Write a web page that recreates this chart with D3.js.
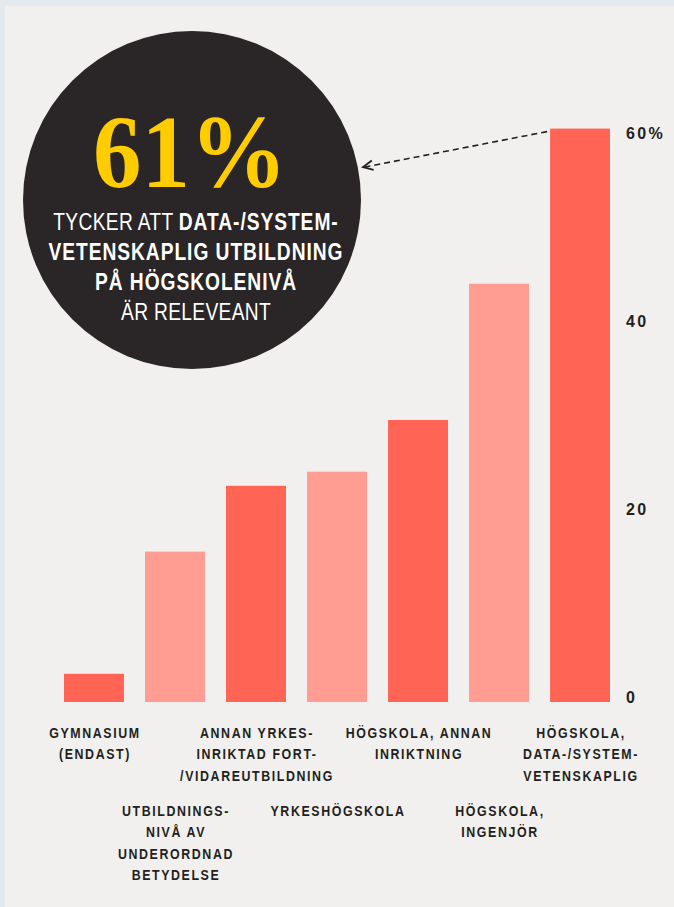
<!DOCTYPE html>
<html>
<head>
<meta charset="utf-8">
<script src="https://cdn.jsdelivr.net/npm/d3@7"></script>
<style>
  html, body { margin: 0; padding: 0; background: #e3e9ec; }
  #chart svg { display: block; }
</style>
</head>
<body>
<div id="chart"></div>
<script>
// data
const categories = [
  ["GYMNASIUM", "(ENDAST)"],
  ["UTBILDNINGS-", "NIVÅ AV", "UNDERORDNAD", "BETYDELSE"],
  ["ANNAN YRKES-", "INRIKTAD FORT-", "/VIDAREUTBILDNING"],
  ["YRKESHÖGSKOLA"],
  ["HÖGSKOLA, ANNAN", "INRIKTNING"],
  ["HÖGSKOLA,", "INGENJÖR"],
  ["HÖGSKOLA,", "DATA-/SYSTEM-", "VETENSKAPLIG"]
];
const values = [3, 16, 23, 24.5, 30, 44.5, 61];
const yTicks = [0, 20, 40, 60];
const highlight = "61%";
const calloutLines = [
  [["TYCKER ATT ", false], ["DATA-/SYSTEM-", true]],
  [["VETENSKAPLIG UTBILDNING", true]],
  [["PÅ HÖGSKOLENIVÅ", true]],
  [["ÄR RELEVEANT", false]]
];

const width = 674, height = 907;
const dark = "#ff6455", light = "#ff9d92";
const squeeze = 0.8; // condensed look, no narrow font installed

const svg = d3.select("#chart")
  .append("svg")
  .attr("width", width)
  .attr("height", height);

// panel
svg.append("rect")
  .attr("x", 5).attr("y", 6)
  .attr("width", width - 5).attr("height", height - 6)
  .attr("fill", "#f1f0ee");

// scales
const x = d3.scaleBand()
  .domain(d3.range(values.length))
  .range([64, 610])
  .paddingInner(0.26)
  .paddingOuter(0);

const y = d3.scaleLinear().domain([0, 60]).range([702, 138]);

// bars
svg.append("g")
  .selectAll("rect")
  .data(values)
  .join("rect")
  .attr("x", (d, i) => x(i))
  .attr("y", d => y(d))
  .attr("width", x.bandwidth())
  .attr("height", d => y(0) - y(d))
  .attr("fill", (d, i) => i % 2 === 0 ? dark : light);

// y axis on the right
const yAxis = svg.append("g")
  .attr("transform", "translate(624,0)")
  .call(d3.axisRight(y).tickValues(yTicks).tickSize(0)
    .tickFormat(d => d === 60 ? d + "%" : d));
yAxis.select(".domain").remove();
yAxis.selectAll("text")
  .attr("x", 2)
  .attr("dy", 0)
  .attr("fill", "#231f20")
  .style("font-family", "'Liberation Sans', Arial, sans-serif")
  .style("font-weight", "bold")
  .style("font-size", "16px")
  .style("letter-spacing", "2.4px");

// category labels, staggered in two rows
const labels = svg.append("g")
  .selectAll("g")
  .data(categories)
  .join("g")
  .attr("transform", (d, i) =>
    `translate(${x(i) + x.bandwidth() / 2 + 1},${i % 2 === 0 ? 738 : 816}) scale(${squeeze},1)`)
  .append("text")
  .attr("text-anchor", "middle")
  .attr("fill", "#231f20")
  .style("font-family", "'Liberation Sans', Arial, sans-serif")
  .style("font-weight", "bold")
  .style("font-size", "15.5px")
  .style("letter-spacing", "2px");

labels.selectAll("tspan")
  .data(d => d)
  .join("tspan")
  .attr("x", 0)
  .attr("y", (d, j) => j * 21.4)
  .text(d => d);

// callout circle
const cx = 192, cy = 200, r = 169;
svg.append("circle")
  .attr("cx", cx).attr("cy", cy).attr("r", r)
  .attr("fill", "#2a2526");

svg.append("text")
  .attr("x", cx - 2).attr("y", 187)
  .attr("text-anchor", "middle")
  .attr("fill", "#ffcc00")
  .style("font-family", "'Liberation Serif', 'DejaVu Serif', serif")
  .style("font-weight", "bold")
  .style("font-size", "104px")
  .attr("textLength", 194)
  .attr("lengthAdjust", "spacingAndGlyphs")
  .text(highlight);

const callout = svg.append("g")
  .attr("transform", `translate(${cx + 4},0) scale(${squeeze},1)`)
  .style("font-family", "'Liberation Sans', Arial, sans-serif")
  .style("font-size", "24px")
  .attr("fill", "#ffffff");

calloutLines.forEach((parts, k) => {
  const t = callout.append("text")
    .attr("x", 0)
    .attr("y", 230.5 + k * 30)
    .attr("text-anchor", "middle");
  parts.forEach(([s, bold]) => {
    t.append("tspan")
      .style("font-weight", bold ? "bold" : "normal")
      .style("letter-spacing", bold ? "1.2px" : "0.4px")
      .text(s);
  });
});

// dashed arrow from the tallest bar to the circle
const last = values.length - 1;
const ax1 = x(last) - 3, ay1 = y(values[last]) + 3;
const ax2 = cx + r + 2, ay2 = 167;
svg.append("line")
  .attr("x1", ax1).attr("y1", ay1)
  .attr("x2", ax2 + 2).attr("y2", ay2)
  .attr("stroke", "#231f20")
  .attr("stroke-width", 1.6)
  .attr("stroke-dasharray", "6 4");

const ang = Math.atan2(ay1 - ay2, ax1 - ax2);
const head = 11, spread = 0.45;
svg.append("path")
  .attr("d", `M${ax2 + head * Math.cos(ang - spread)},${ay2 + head * Math.sin(ang - spread)}
              L${ax2},${ay2}
              L${ax2 + head * Math.cos(ang + spread)},${ay2 + head * Math.sin(ang + spread)}`)
  .attr("fill", "none")
  .attr("stroke", "#231f20")
  .attr("stroke-width", 1.8);
</script>
</body>
</html>
